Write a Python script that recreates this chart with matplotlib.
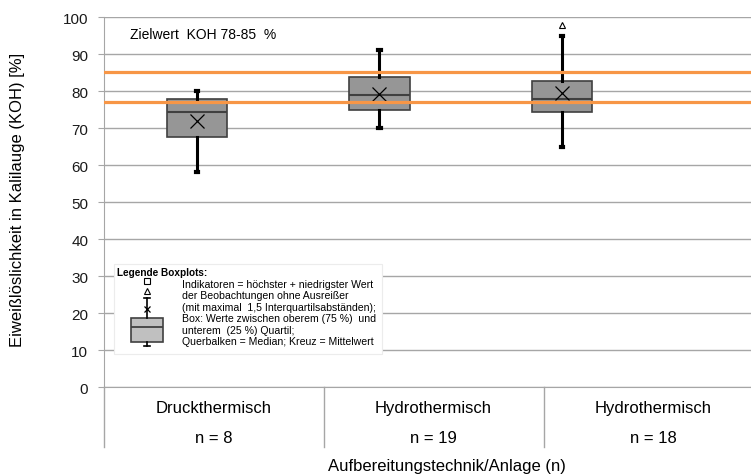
import numpy as np
import matplotlib
matplotlib.use('Agg')
import matplotlib.pyplot as plt
from matplotlib.patches import Rectangle

plt.rcParams['font.family'] = ['Liberation Sans', 'DejaVu Sans']

# values
categories = ['Druckthermisch', 'Hydrothermisch', 'Hydrothermisch']
n_values = [8, 19, 18]
whisker_low = [58.1, 70.0, 65.0]
q1 = [67.7, 74.9, 74.5]
medians = [74.5, 79.0, 77.9]
q3 = [77.9, 83.9, 82.9]
whisker_high = [80.2, 91.2, 95.0]
means = [71.9, 79.3, 79.5]
outliers = [[], [], [97.9]]
target_low = 77.2
target_high = 85.3

# sample boxplot in the legend
legend_whiskers = [11.1, 24.1]
legend_quartiles = [12.2, 16.4, 18.6]
legend_mean = 21.2
legend_triangle = 25.9
legend_square = 28.6

legend_lines = [
    'Indikatoren = höchster + niedrigster Wert',
    'der Beobachtungen ohne Ausreißer',
    '(mit maximal  1,5 Interquartilsabständen);',
    'Box: Werte zwischen oberem (75 %)  und',
    'unterem  (25 %) Quartil;',
    'Querbalken = Median; Kreuz = Mittelwert',
]

W, H = 751, 477
fig = plt.figure(figsize=(W / 100, H / 100), dpi=100)
ax = fig.add_axes([103.5 / W, (H - 388.3) / H, 660 / W, 370 / H])

grey = '#a6a6a6'
ax.yaxis.grid(True, color=grey, lw=1)
ax.set_axisbelow(True)
for s in ['top', 'right']:
    ax.spines[s].set_visible(False)
for s in ['left', 'bottom']:
    ax.spines[s].set_color(grey)

# boxes sit on their own spacing, not on the category centres
pos = -0.075 + np.arange(len(categories)) * 0.8295
stats = []
for i in range(len(categories)):
    stats.append(dict(whislo=whisker_low[i], q1=q1[i], med=medians[i], q3=q3[i],
                      whishi=whisker_high[i], mean=means[i], fliers=outliers[i]))
ax.bxp(stats, positions=pos, widths=0.277, showmeans=True, patch_artist=True,
       manage_ticks=False,
       boxprops=dict(facecolor='#969696', edgecolor='#404040', linewidth=1.2),
       medianprops=dict(color='#404040', linewidth=1.5),
       whiskerprops=dict(color='black', linewidth=2.2),
       capprops=dict(color='black', linewidth=3.0), capwidths=0.012,
       meanprops=dict(marker='x', markersize=10, markeredgecolor='black',
                      markeredgewidth=0.9),
       flierprops=dict(marker='^', markersize=5, markerfacecolor='white',
                       markeredgecolor='black', markeredgewidth=0.8),
       zorder=3)

ax.axhline(target_high, color='#f79646', lw=2.3, zorder=5)
ax.axhline(target_low, color='#f79646', lw=2.3, zorder=5)

ax.text(-0.3795, 95.5, 'Zielwert  KOH 78-85  %', fontsize=10, va='center', ha='left')

# legend panel
ax.add_patch(Rectangle((-0.452, 9.0), 1.218, 24.3, facecolor='white',
                       edgecolor='#ececec', lw=0.8, zorder=1))
ax.text(-0.4386, 31.2, 'Legende Boxplots:', fontsize=7.2, fontweight='bold',
        va='center', ha='left', zorder=6)
for k, line in enumerate(legend_lines):
    y = (388.3 - (285 + k * 11.4)) / 3.7
    ax.text(-0.1445, y, line, fontsize=7.6, va='center', ha='left', zorder=6)

lpos = -0.302
ax.bxp([dict(whislo=legend_whiskers[0], q1=legend_quartiles[0], med=legend_quartiles[1],
             q3=legend_quartiles[2], whishi=legend_whiskers[1], mean=legend_mean, fliers=[])],
       positions=[lpos], widths=0.145, showmeans=True, patch_artist=True,
       manage_ticks=False,
       boxprops=dict(facecolor='#c0c0c0', edgecolor='#404040', linewidth=1.2),
       medianprops=dict(color='#404040', linewidth=1.3),
       whiskerprops=dict(color='black', linewidth=1.2),
       capprops=dict(color='black', linewidth=1.2), capwidths=0.03,
       meanprops=dict(marker='x', markersize=4, markeredgecolor='black',
                      markeredgewidth=0.9),
       zorder=3)
ax.plot([lpos], [legend_triangle], marker='^', ms=5, mfc='white', mec='black', mew=0.8, zorder=4)
ax.plot([lpos], [legend_square], marker='s', ms=5, mfc='white', mec='black', mew=0.8, zorder=4)

ax.set_xlim(-0.5, 2.5)
ax.set_ylim(0, 100)
ax.set_yticks(np.arange(0, 101, 10))
ax.set_xticks([])
ax.tick_params(axis='y', direction='out', length=4, color=grey, pad=7,
               labelsize=11, labelcolor='#1a1a1a')

# category labels below the axis
xt = ax.get_xaxis_transform()
for i, cat in enumerate(categories):
    ax.text(i, -0.054, cat, transform=xt, ha='center', va='center', fontsize=12)
    ax.text(i, -0.135, 'n = %d' % n_values[i], transform=xt, ha='center', va='center', fontsize=12)
for x in [-0.5, 0.5, 1.5]:
    ax.plot([x, x], [0, -0.161], transform=xt, color=grey, lw=1, clip_on=False)

fig.text(18 / W, 1 - 200 / H, 'Eiweißlöslichkeit in Kalilauge (KOH) [%]', rotation=90,
         ha='center', va='center', fontsize=12)
fig.text(447 / W, 1 - 467 / H, 'Aufbereitungstechnik/Anlage (n)', ha='center',
         va='center', fontsize=12)

fig.savefig('out.png', dpi=100)
